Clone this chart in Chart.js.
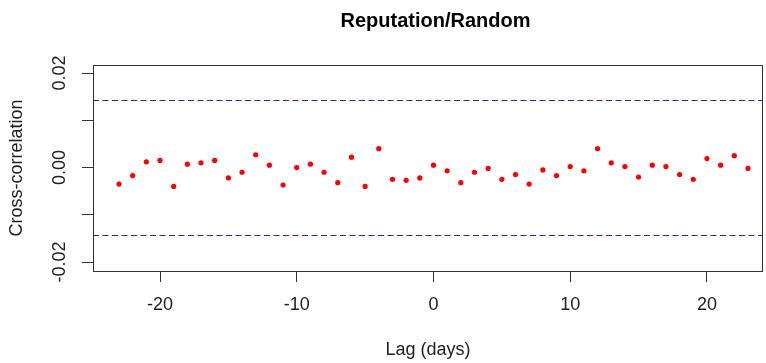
<!DOCTYPE html>
<html>
<head>
<meta charset="utf-8">
<script src="https://cdn.jsdelivr.net/npm/chart.js@4"></script>
<style>
  html, body { margin: 0; padding: 0; background: #fff; }
  #wrap { width: 766px; height: 363px; }
</style>
</head>
<body>
<div id="wrap"><canvas id="myChart"></canvas></div>
<script>
const lags = [-23, -22, -21, -20, -19, -18, -17, -16, -15, -14, -13, -12, -11, -10, -9, -8,
              -7, -6, -5, -4, -3, -2, -1, 0, 1, 2, 3, 4, 5, 6, 7, 8,
              9, 10, 11, 12, 13, 14, 15, 16, 17, 18, 19, 20, 21, 22, 23];
const ccf = [-0.0035, -0.0017, 0.0012, 0.0015, -0.0040, 0.0007, 0.0010, 0.0015,
             -0.0022, -0.0010, 0.0027, 0.0005, -0.0037, 0.0000, 0.0007, -0.0010,
             -0.0032, 0.0022, -0.0040, 0.0040, -0.0025, -0.0027, -0.0022, 0.0005,
             -0.0007, -0.0032, -0.0010, -0.0002, -0.0025, -0.0015, -0.0035, -0.0005,
             -0.0017, 0.0002, -0.0007, 0.0040, 0.0010, 0.0002, -0.0020, 0.0005,
             0.0002, -0.0015, -0.0025, 0.0019, 0.0005, 0.0025, -0.0002];
const confBounds = [0.0143, -0.0143];
const xTicks = [-20, -10, 0, 10, 20];
const xTickLabels = ["-20", "-10", "0", "10", "20"];
const yTicks = [-0.02, -0.01, 0, 0.01, 0.02];
const yTickLabels = ["-0.02", "", "0.00", "", "0.02"];

const font = "'Liberation Sans', Arial, sans-serif";
const ink = '#333';

// box, dashed bounds, rotated y labels and title, drawn R-style
const rStyle = {
  id: 'rStyle',
  beforeDatasetsDraw(chart) {
    const {ctx, chartArea: a, scales: {x, y}} = chart;
    ctx.save();
    ctx.strokeStyle = '#1f1fff';
    ctx.lineWidth = 1.2;
    ctx.setLineDash([6, 3.5]);
    confBounds.forEach(v => {
      const py = Math.round(y.getPixelForValue(v)) + 0.5;
      ctx.beginPath();
      ctx.moveTo(a.left, py);
      ctx.lineTo(a.right, py);
      ctx.stroke();
    });
    ctx.restore();
  },
  afterDraw(chart) {
    const {ctx, chartArea: a, scales: {x, y}} = chart;
    ctx.save();
    ctx.strokeStyle = ink;
    ctx.lineWidth = 1;
    ctx.strokeRect(a.left + 0.5, a.top + 0.5, a.right - a.left - 1, a.bottom - a.top);

    ctx.fillStyle = '#222';
    ctx.font = '18px ' + font;
    ctx.textAlign = 'center';
    ctx.textBaseline = 'middle';
    yTicks.forEach((v, i) => {
      if (!yTickLabels[i]) return;
      ctx.save();
      ctx.translate(60, y.getPixelForValue(v));
      ctx.rotate(-Math.PI / 2);
      ctx.fillText(yTickLabels[i], 0, 0);
      ctx.restore();
    });

    ctx.fillStyle = '#000';
    ctx.font = 'bold 20px ' + font;
    ctx.fillText('Reputation/Random', x.getPixelForValue(0) + 2, 21);
    ctx.restore();
  }
};

new Chart('myChart', {
  type: 'scatter',
  data: {
    datasets: [{
      label: 'ccf',
      data: lags.map((l, i) => ({x: l, y: ccf[i]})),
      backgroundColor: '#ff0000',
      borderWidth: 0,
      pointRadius: 2.6,
      pointHoverRadius: 2.6
    }]
  },
  options: {
    responsive: true,
    maintainAspectRatio: false,
    animation: false,
    layout: { padding: { top: 65, right: 3, left: 0, bottom: 0 } },
    plugins: {
      legend: { display: false },
      tooltip: { enabled: false }
    },
    scales: {
      x: {
        type: 'linear',
        min: -24.9,
        max: 24.1,
        afterBuildTicks: s => { s.ticks = xTicks.map(v => ({value: v})); },
        afterFit: s => { s.height = 92; },
        ticks: {
          color: '#222',
          font: { family: font, size: 18 },
          padding: 12,
          maxRotation: 0,
          callback: v => xTickLabels[xTicks.indexOf(v)]
        },
        grid: { drawOnChartArea: false, tickLength: 11, color: ink },
        border: { display: false },
        title: {
          display: true,
          text: 'Lag (days)',
          color: '#222',
          font: { family: font, size: 18 },
          padding: { top: 0, bottom: 2 }
        }
      },
      y: {
        min: -0.0219,
        max: 0.0217,
        afterBuildTicks: s => { s.ticks = yTicks.map(v => ({value: v})); },
        afterFit: s => { s.width = 93; },
        ticks: { display: false },
        grid: { drawOnChartArea: false, tickLength: 11, color: ink },
        border: { display: false },
        title: {
          display: true,
          text: 'Cross-correlation',
          color: '#222',
          font: { family: font, size: 18 },
          padding: { top: 6, bottom: 0 }
        }
      }
    }
  },
  plugins: [rStyle]
});
</script>
</body>
</html>
